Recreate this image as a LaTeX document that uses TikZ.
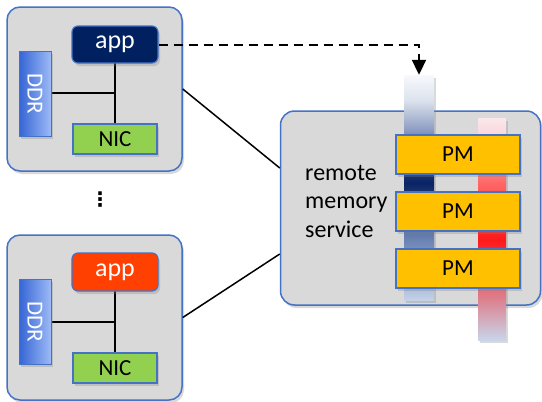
\documentclass[tikz,border=0pt]{standalone}
\usepackage{fontspec}
\setmainfont{Carlito}
\newfontfamily\dotsfont{DejaVu Sans}
\usetikzlibrary{arrows.meta,shadows}

\definecolor{edgeblue}{HTML}{4472C4}
\definecolor{hostgray}{HTML}{D9D9D9}
\definecolor{appnavy}{HTML}{002060}
\definecolor{appred}{HTML}{FF4000}
\definecolor{nicgreen}{HTML}{92D050}
\definecolor{pmgold}{HTML}{FFC000}
\definecolor{ddrdark}{HTML}{3565D4}
\definecolor{ddrlight}{HTML}{9DBAF7}

\pgfdeclareverticalshading{bluebar}{100bp}{
  color(0bp)=(rgb,255:red,195;green,209;blue,232);
  color(25bp)=(rgb,255:red,195;green,209;blue,232);
  color(26.8bp)=(rgb,255:red,181;green,197;blue,223);
  color(38.3bp)=(rgb,255:red,107;green,132;blue,180);
  color(51bp)=(rgb,255:red,10;green,36;blue,100);
  color(58.3bp)=(rgb,255:red,74;green,95;blue,147);
  color(62.8bp)=(rgb,255:red,141;green,157;blue,194);
  color(69.4bp)=(rgb,255:red,220;green,227;blue,238);
  color(75bp)=(rgb,255:red,247;green,249;blue,252);
  color(100bp)=(rgb,255:red,247;green,249;blue,252)}
\pgfdeclareverticalshading{redbar}{100bp}{
  color(0bp)=(rgb,255:red,200;green,213;blue,234);
  color(25bp)=(rgb,255:red,200;green,213;blue,234);
  color(34bp)=(rgb,255:red,220;green,130;blue,144);
  color(47.5bp)=(rgb,255:red,255;green,26;blue,26);
  color(60.4bp)=(rgb,255:red,255;green,102;blue,102);
  color(70bp)=(rgb,255:red,249;green,208;blue,214);
  color(75bp)=(rgb,255:red,251;green,232;blue,235);
  color(100bp)=(rgb,255:red,251;green,232;blue,235)}

\tikzset{
  boxshadow/.style={drop shadow={shadow xshift=2pt,shadow yshift=-3pt,opacity=.3}},
  hostbox/.style={draw=edgeblue,line width=1.5pt,fill=hostgray,rounded corners=13pt,
    minimum width=175pt,minimum height=164pt,boxshadow},
  appbox/.style={draw=edgeblue,line width=1.2pt,rounded corners=6pt,text=white,
    minimum width=86pt,minimum height=37pt,font=\fontsize{26}{30}\selectfont,boxshadow},
  ddrbox/.style={draw=edgeblue,line width=1pt,left color=ddrdark,right color=ddrlight,
    text=white,minimum width=32pt,minimum height=85pt,inner sep=0pt,
    font=\fontsize{23}{26}\selectfont,boxshadow},
  nicbox/.style={draw=edgeblue,line width=1.2pt,fill=nicgreen,
    minimum width=84pt,minimum height=30pt,font=\fontsize{23}{26}\selectfont,boxshadow},
  pmbox/.style={draw=edgeblue,line width=1.2pt,fill=pmgold,
    minimum width=124pt,minimum height=39pt,font=\fontsize{23}{26}\selectfont,boxshadow},
  barbox/.style={draw=none,inner sep=0pt,boxshadow},
  wire/.style={line width=1.5pt}
}

\begin{document}
\begin{tikzpicture}[x=1pt,y=-1pt]
  \useasboundingbox (0,0) rectangle (542,402);

  % hosts
  \node[hostbox] (host1) at (94.5,89) {};
  \node[hostbox,minimum height=165pt] (host2) at (94.5,317.5) {};

  % remote side
  \node[draw=edgeblue,line width=1.5pt,fill=hostgray,rounded corners=14pt,
    minimum width=260pt,minimum height=194pt,boxshadow] (rms) at (410.5,208) {};
  \node[barbox,shading=bluebar,minimum width=30pt,minimum height=225pt] (bbar) at (419,187.5) {};
  \node[barbox,shading=redbar,minimum width=28pt,minimum height=222pt] (rbar) at (492,229) {};
  \node[pmbox] (pm1) at (458,154.5) {PM};
  \node[pmbox] (pm2) at (458,211.5) {PM};
  \node[pmbox] (pm3) at (458,268.5) {PM};
  \node[anchor=west,align=left,inner sep=0pt,font=\fontsize{24}{28.5}\selectfont] (rmstext) at (305,201) {remote\\memory\\service};

  % host 1
  \coordinate (j1) at (115,93);
  \draw[wire] (j1) -- (115,44);
  \draw[wire] (j1) -- (115,139);
  \draw[wire] (j1) -- (35,93);
  \node[appbox,fill=appnavy] (app1) at (115,44.5) {app};
  \node[ddrbox] (ddr1) at (35,93.5) {\rotatebox{-90}{DDR}};
  \node[nicbox] (nic1) at (115,139) {NIC};

  % host 2
  \coordinate (j2) at (115,322);
  \draw[wire] (j2) -- (115,272);
  \draw[wire] (j2) -- (115,368);
  \draw[wire] (j2) -- (35,322);
  \node[appbox,fill=appred,minimum height=38pt] (app2) at (115,272) {app};
  \node[ddrbox] (ddr2) at (35,321.5) {\rotatebox{-90}{DDR}};
  \node[nicbox] (nic2) at (115,368) {NIC};

  \node[font=\dotsfont\fontsize{20}{24}\selectfont\bfseries,inner sep=0pt] (dots) at (100,200) {⋮};

  % links
  \draw[wire] (host1.east) -- ([yshift=40pt]rms.west);
  \draw[wire] (host2.east) -- ([yshift=-46pt]rms.west);
  \draw[line width=2pt,dash pattern=on 9pt off 6pt,-{Triangle[length=15pt,width=14pt]}]
    (app1.east) -| (bbar.north);
\end{tikzpicture}
\end{document}
